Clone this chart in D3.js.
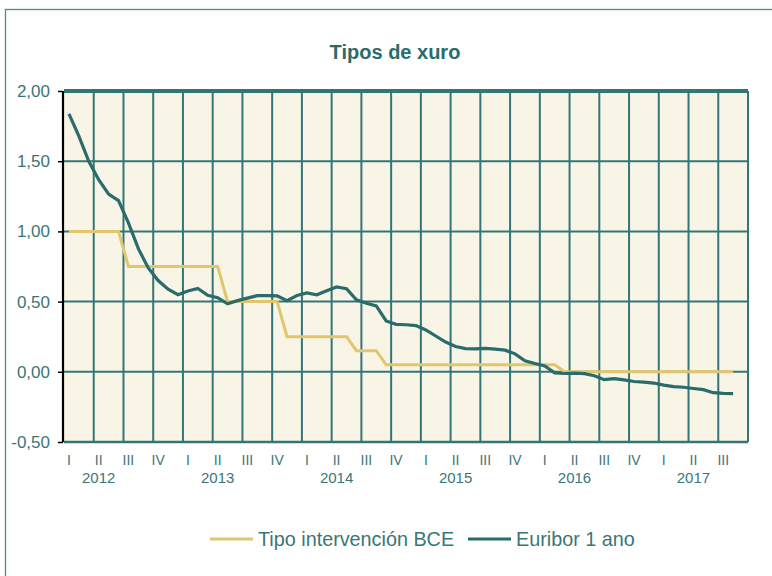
<!DOCTYPE html>
<html>
<head>
<meta charset="utf-8">
<script src="https://cdn.jsdelivr.net/npm/d3@7"></script>
<style>
  body { margin: 0; background: #fff; }
  svg { display: block; font-family: "Liberation Sans", Arial, sans-serif; }
</style>
</head>
<body>
<svg id="chart" width="772" height="576"></svg>
<script>
// data -- monthly, Jan 2012 .. Sep 2017 (last month empty)
var years = [2012, 2013, 2014, 2015, 2016, 2017];
var quarter_labels = ["I", "II", "III", "IV"];
var y_ticks = [-0.5, 0, 0.5, 1, 1.5, 2];

var bce = [
  1.00, 1.00, 1.00, 1.00, 1.00, 1.00, 0.75, 0.75, 0.75, 0.75, 0.75, 0.75,
  0.75, 0.75, 0.75, 0.75, 0.50, 0.50, 0.50, 0.50, 0.50, 0.50, 0.25, 0.25,
  0.25, 0.25, 0.25, 0.25, 0.25, 0.15, 0.15, 0.15, 0.05, 0.05, 0.05, 0.05,
  0.05, 0.05, 0.05, 0.05, 0.05, 0.05, 0.05, 0.05, 0.05, 0.05, 0.05, 0.05,
  0.05, 0.05, 0.00, 0.00, 0.00, 0.00, 0.00, 0.00, 0.00, 0.00, 0.00, 0.00,
  0.00, 0.00, 0.00, 0.00, 0.00, 0.00, 0.00, 0.00
];
var euribor = [
  1.837, 1.678, 1.499, 1.368, 1.266, 1.219, 1.061, 0.877, 0.740, 0.650, 0.588, 0.549,
  0.575, 0.594, 0.545, 0.528, 0.484, 0.507, 0.525, 0.542, 0.543, 0.541, 0.506, 0.543,
  0.562, 0.549, 0.577, 0.604, 0.592, 0.513, 0.488, 0.469, 0.362, 0.338, 0.335, 0.329,
  0.298, 0.255, 0.212, 0.180, 0.165, 0.163, 0.167, 0.161, 0.154, 0.128, 0.079, 0.059,
  0.042, -0.008, -0.012, -0.010, -0.013, -0.028, -0.056, -0.048, -0.057, -0.069, -0.074, -0.080,
  -0.095, -0.106, -0.110, -0.119, -0.127, -0.149, -0.154, -0.156
];
var n_months = 69;

// colors
var c_teal = "#2a6b6c", c_grid = "#347678", c_text = "#3a7677";
var c_gold = "#e1c66c", c_bg = "#f8f4e6";

// layout
var pad_left = 64, pad_right = 748, pad_top = 91, pad_bottom = 442;

var svg = d3.select("#chart");

// outer frame
svg.append("rect").attr("x", 5.5).attr("y", 9.5).attr("width", 790).attr("height", 600)
  .attr("fill", "none").attr("stroke", "#4d8a8a").attr("stroke-width", 1.3);

// title
svg.append("text").attr("x", 395).attr("y", 59).attr("text-anchor", "middle")
  .attr("font-size", 20).attr("font-weight", "bold").attr("fill", c_teal)
  .text("Tipos de xuro");

var months = d3.range(n_months);
var x_scale = d3.scaleBand().domain(months).range([pad_left, pad_right]).padding(0);
var y_scale = d3.scaleLinear().domain([-0.5, 2]).range([pad_bottom, pad_top]);
var cx = function(i){ return x_scale(i) + x_scale.bandwidth() / 2; };

// plot background
svg.append("rect").attr("x", pad_left).attr("y", pad_top)
  .attr("width", pad_right - pad_left).attr("height", pad_bottom - pad_top)
  .attr("fill", c_bg);

// vertical grid at quarter boundaries
var grid = svg.append("g");
months.filter(function(i){ return i > 0 && i % 3 == 0; }).forEach(function(i){
  grid.append("line").attr("x1", x_scale(i)).attr("x2", x_scale(i))
    .attr("y1", pad_top).attr("y2", pad_bottom)
    .attr("stroke", c_grid).attr("stroke-width", 2);
});
grid.append("line").attr("x1", pad_right).attr("x2", pad_right)
  .attr("y1", pad_top).attr("y2", pad_bottom)
  .attr("stroke", c_grid).attr("stroke-width", 2);

// horizontal grid
y_ticks.forEach(function(v){
  grid.append("line").attr("x1", pad_left).attr("x2", pad_right)
    .attr("y1", y_scale(v)).attr("y2", y_scale(v))
    .attr("stroke", c_grid)
    .attr("stroke-width", v == 2 ? 4 : (v == -0.5 ? 2.5 : 2));
});

// y axis
var loc = d3.formatLocale({decimal: ",", thousands: ".", grouping: [3], currency: ["", "€"], minus: "-"});
var y_axis = d3.axisLeft(y_scale).tickValues(y_ticks).tickSize(5).tickPadding(8)
  .tickFormat(loc.format(".2f"));
var y_g = svg.append("g").attr("transform", "translate(" + (pad_left - 1) + ",0)").call(y_axis);
y_g.select(".domain").attr("stroke", "#000").attr("stroke-width", 2.2)
  .attr("d", "M0," + pad_top + "V" + pad_bottom);
y_g.selectAll(".tick line").attr("stroke", "#000").attr("stroke-width", 1.5);
y_g.selectAll(".tick text").attr("fill", c_text).attr("font-size", 17)
  .attr("font-family", "Liberation Sans, Arial, sans-serif");

// x labels
var x_g = svg.append("g");
months.filter(function(i){ return i % 3 == 0; }).forEach(function(i){
  x_g.append("text").attr("x", cx(i)).attr("y", 465).attr("text-anchor", "middle")
    .attr("font-size", 14).attr("fill", c_text)
    .text(quarter_labels[(i % 12) / 3]);
});
years.forEach(function(yr, k){
  x_g.append("text").attr("x", cx(k * 12 + 3)).attr("y", 483).attr("text-anchor", "middle")
    .attr("font-size", 15).attr("fill", c_text).text(yr);
});

// lines
var line = d3.line().x(function(d, i){ return cx(i); }).y(function(d){ return y_scale(d); });
svg.append("path").datum(bce).attr("d", line).attr("fill", "none")
  .attr("stroke", c_gold).attr("stroke-width", 3);
svg.append("path").datum(euribor).attr("d", line).attr("fill", "none")
  .attr("stroke", c_teal).attr("stroke-width", 3.2);

// legend
var legend = [
  {name: "Tipo intervención BCE", color: c_gold, x: 210},
  {name: "Euribor 1 ano", color: c_teal, x: 468}
];
legend.forEach(function(d){
  var g = svg.append("g").attr("transform", "translate(" + d.x + ",539)");
  g.append("line").attr("x1", 0).attr("x2", 43).attr("y1", 0).attr("y2", 0)
    .attr("stroke", d.color).attr("stroke-width", 3);
  g.append("text").attr("x", 48).attr("y", 7).attr("font-size", 19.8)
    .attr("fill", c_text).text(d.name);
});
</script>
</body>
</html>
